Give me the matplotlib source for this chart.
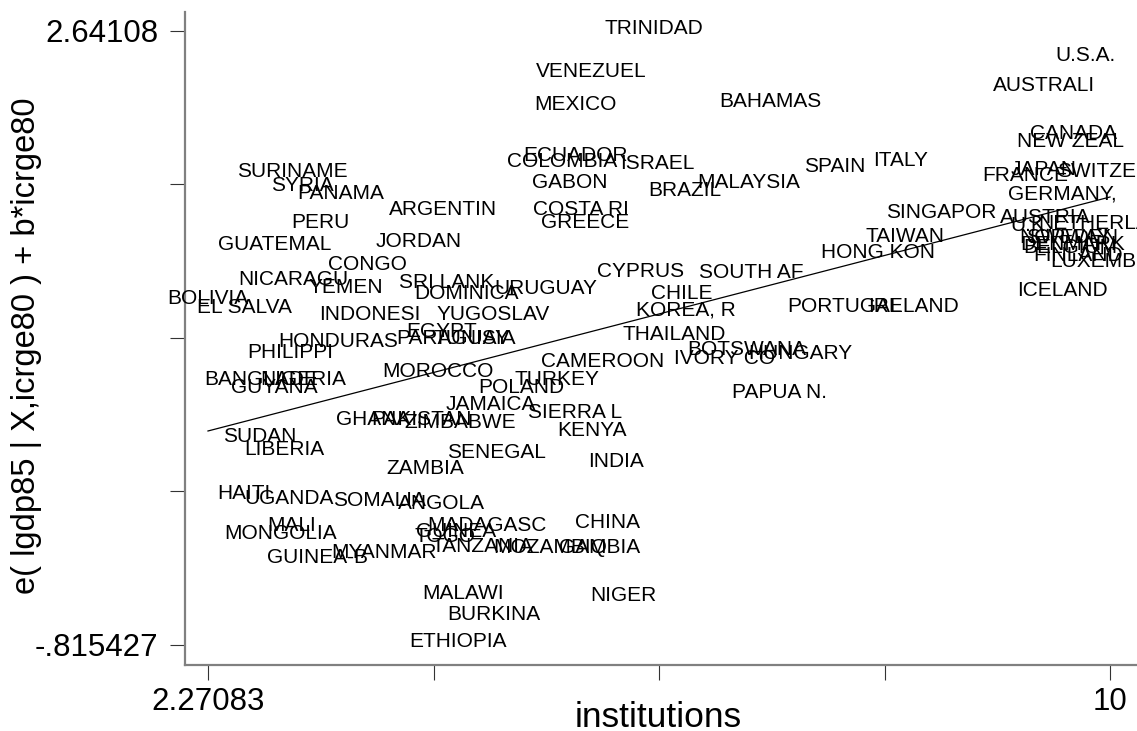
import matplotlib
matplotlib.use('Agg')
import matplotlib.pyplot as plt
import numpy as np

plt.rcParams['font.family'] = ['Liberation Sans', 'DejaVu Sans']

# country labels (8 char abbreviations as in the data set)
countries = ['TRINIDAD', 'U.S.A.', 'VENEZUEL', 'AUSTRALI', 'MEXICO', 'BAHAMAS', 'CANADA', 'NEW ZEAL',
             'ECUADOR', 'COLOMBIA', 'ISRAEL', 'SPAIN', 'ITALY', 'SURINAME', 'SYRIA', 'PANAMA',
             'GABON', 'MALAYSIA', 'BRAZIL', 'JAPAN', 'SWITZERL', 'FRANCE', 'GERMANY,', 'ARGENTIN',
             'PERU', 'COSTA RI', 'GREECE', 'SINGAPOR', 'AUSTRIA', 'U.K.', 'NETHERLA', 'TAIWAN',
             'HONG KON', 'NORWAY', 'SWEDEN', 'DENMARK', 'BELGIUM', 'FINLAND', 'LUXEMBOU', 'GUATEMAL',
             'JORDAN', 'CONGO', 'NICARAGU', 'YEMEN', 'SRI LANK', 'DOMINICA', 'URUGUAY', 'CYPRUS',
             'SOUTH AF', 'CHILE', 'KOREA, R', 'BOLIVIA', 'EL SALVA', 'INDONESI', 'YUGOSLAV', 'PORTUGAL',
             'IRELAND', 'ICELAND', 'THAILAND', 'HONDURAS', 'EGYPT', 'PARAGUAY', 'TUNISIA', 'PHILIPPI',
             'BOTSWANA', 'HUNGARY', 'IVORY CO', 'CAMEROON', 'MOROCCO', 'TURKEY', 'POLAND', 'BANGLADE',
             'NIGERIA', 'GUYANA', 'PAPUA N.', 'JAMAICA', 'SIERRA L', 'GHANA', 'PAKISTAN', 'ZIMBABWE',
             'KENYA', 'SUDAN', 'LIBERIA', 'SENEGAL', 'INDIA', 'ZAMBIA', 'HAITI', 'UGANDA',
             'SOMALIA', 'ANGOLA', 'MADAGASC', 'CHINA', 'MONGOLIA', 'MALI', 'GUINEA', 'TOGO',
             'TANZANIA', 'MOZAMBIQ', 'GAMBIA', 'MYANMAR', 'GUINEA-B', 'MALAWI', 'NIGER', 'BURKINA',
             'ETHIOPIA']

institutions = [6.093, 9.794, 5.553, 9.434, 5.416, 7.087, 9.683, 9.657,
                5.416, 5.304, 6.118, 7.644, 8.209, 2.991, 3.076, 3.411,
                5.373, 6.907, 6.358, 9.434, 10.0, 9.272, 9.589, 4.285,
                3.231, 5.467, 5.501, 8.552, 9.443, 9.323, 9.860, 8.243,
                8.012, 9.614, 9.674, 9.683, 9.657, 9.726, 9.990, 2.845,
                4.079, 3.633, 2.999, 3.453, 4.319, 4.482, 5.167, 5.981,
                6.924, 6.333, 6.367, 2.27083, 2.579, 3.659, 4.713, 7.721,
                8.320, 9.589, 6.264, 3.385, 4.276, 4.370, 4.559, 2.973,
                6.889, 7.344, 6.701, 5.656, 4.242, 5.261, 4.953, 2.725,
                3.085, 2.836, 7.172, 4.696, 5.416, 3.685, 4.096, 4.430,
                5.561, 2.716, 2.922, 4.747, 5.767, 4.130, 2.579, 2.965,
                3.736, 4.267, 4.662, 5.690, 2.896, 2.991, 4.396, 4.302,
                4.619, 5.201, 5.630, 3.779, 3.213, 4.456, 5.827, 4.722,
                4.413]

cpr = [2.664, 2.517, 2.422, 2.348, 2.236, 2.253, 2.078, 2.028,
       1.954, 1.915, 1.904, 1.887, 1.921, 1.859, 1.785, 1.735,
       1.802, 1.802, 1.752, 1.870, 1.859, 1.836, 1.735, 1.650,
       1.572, 1.650, 1.572, 1.628, 1.605, 1.555, 1.566, 1.493,
       1.408, 1.487, 1.487, 1.448, 1.431, 1.391, 1.352, 1.448,
       1.470, 1.335, 1.251, 1.211, 1.234, 1.172, 1.200, 1.296,
       1.290, 1.172, 1.082, 1.149, 1.093, 1.059, 1.059, 1.104,
       1.104, 1.189, 0.941, 0.902, 0.958, 0.924, 0.924, 0.845,
       0.862, 0.834, 0.806, 0.789, 0.733, 0.693, 0.643, 0.688,
       0.693, 0.648, 0.620, 0.547, 0.502, 0.468, 0.468, 0.451,
       0.406, 0.367, 0.299, 0.277, 0.226, 0.187, 0.046, 0.018,
       0.007, -0.005, -0.134, -0.117, -0.179, -0.129, -0.168, -0.196,
       -0.247, -0.258, -0.258, -0.281, -0.314, -0.517, -0.523, -0.630,
       -0.782]

# fitted line: intercept and slope
fit_a = 0.0023
fit_b = 0.17043

xmin, xmax = 2.27083, 10
ymin, ymax = -0.815427, 2.64108

fig = plt.figure(figsize=(11.37, 7.31), dpi=100)
ax = fig.add_axes([0.1627, 0.0903, 0.8373, 0.8933])

for name, x, y in zip(countries, institutions, cpr):
    ax.text(x, y, name, ha='center', va='center_baseline', fontsize=15, color='black')

xs = np.array([xmin, xmax])
ax.plot(xs, fit_a + fit_b * xs, color='black', linewidth=0.9)

ax.set_xlim(2.0737, 10.231)
ax.set_ylim(-0.928, 2.748)

ax.set_xticks(np.linspace(xmin, xmax, 5))
ax.set_xticklabels(['2.27083', '', '', '', '10'])
ax.set_yticks(np.linspace(ymin, ymax, 5))
ax.set_yticklabels(['-.815427', '', '', '', '2.64108'])
ax.tick_params(direction='out', length=11, width=0.8, color='#333333', labelsize=22.5)
ax.tick_params(axis='y', pad=8)
ax.tick_params(axis='x', pad=5)

for side in ['top', 'right']:
    ax.spines[side].set_visible(False)
for side in ['left', 'bottom']:
    ax.spines[side].set_color('#808080')
    ax.spines[side].set_linewidth(1.6)

ax.set_xlabel('institutions', fontsize=25.5)
ax.set_ylabel('e( lgdp85 | X,icrge80 ) + b*icrge80', fontsize=23.5)
ax.xaxis.set_label_coords((658 - 185) / 952, -(701 - 665) / 653)
ax.yaxis.set_label_coords(-(185 - 42) / 952, (665 - 346) / 653)

plt.savefig('out.png', dpi=100)
